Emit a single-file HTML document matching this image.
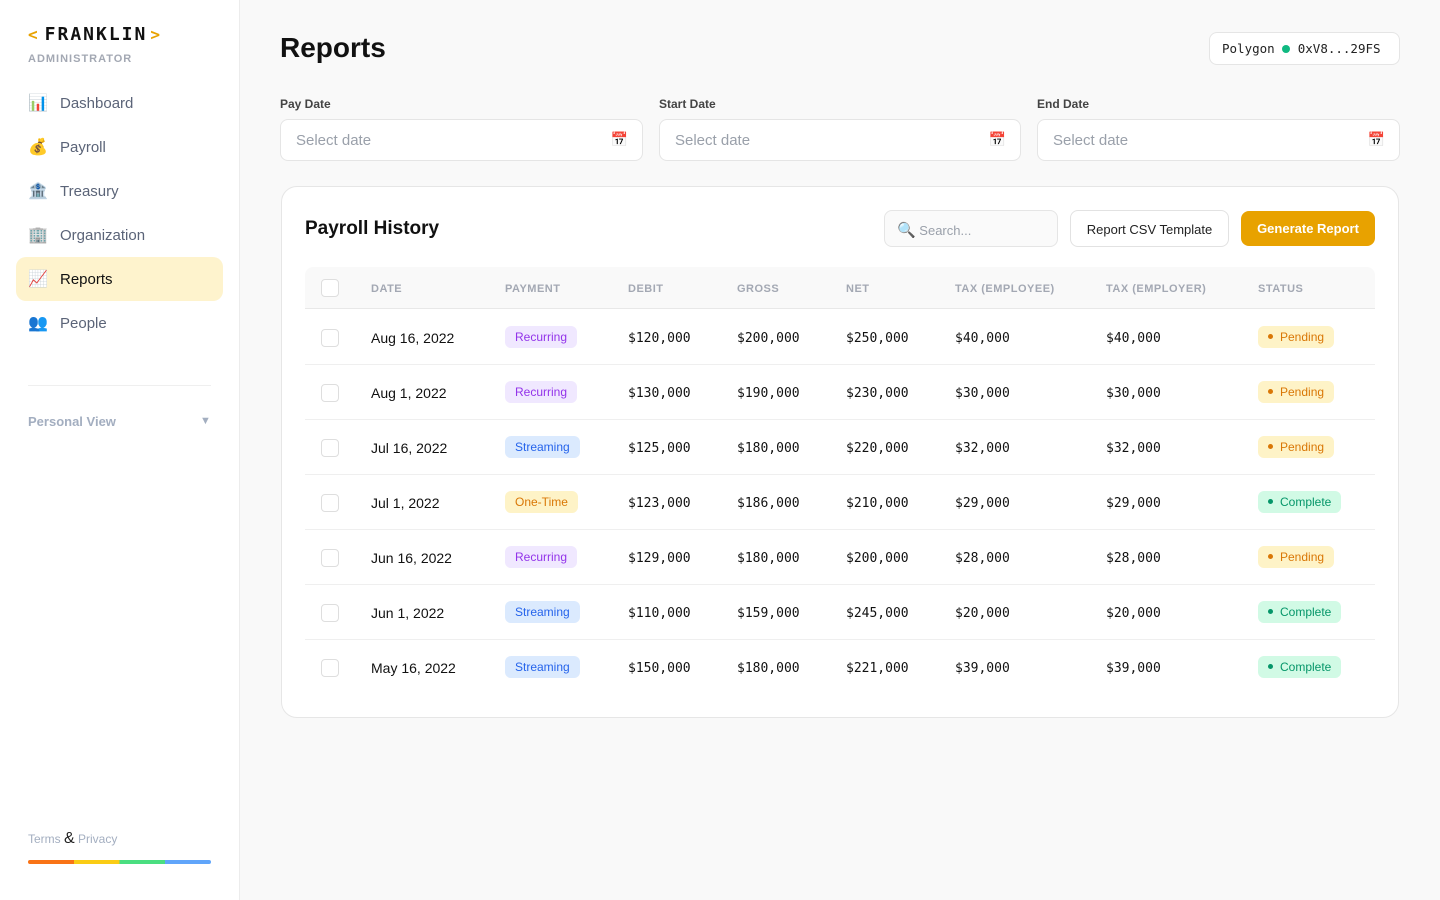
<!DOCTYPE html>
<html><head><meta charset="utf-8"><style>
*{box-sizing:border-box;margin:0;padding:0}
body{width:1440px;height:900px;background:#f9f9f9;font-family:"Liberation Sans",sans-serif;position:relative;overflow:hidden;color:#111}
.mono{font-family:"DejaVu Sans Mono","Liberation Mono",monospace}
.side{position:absolute;left:0;top:0;width:240px;height:900px;background:#fff;border-right:1px solid #ececec}
.logo{position:absolute;left:28px;top:24px;font-size:18px;font-weight:bold;letter-spacing:2px;white-space:nowrap}
.logo b{color:#e8a200;font-size:16px;letter-spacing:0}
.admin{position:absolute;left:28px;top:53px;font-size:11px;font-weight:bold;color:#a3a8b3;letter-spacing:1px}
.nav{position:absolute;left:16px;width:207px;height:44px;border-radius:10px;font-size:15px;color:#5b6478;display:flex;align-items:center;padding-left:12px}
.nav i{font-style:normal;width:32px;font-size:16px}
.nav.act{background:#fef3cd;color:#111}
.abs{position:absolute}
.lbl{font-size:12px;font-weight:bold;color:#444}
.inp{position:absolute;top:119px;width:363px;height:42px;background:#fff;border:1px solid #e5e5e5;border-radius:8px;font-size:15px;color:#9aa0aa;padding:12px 15px}
.inp span{position:absolute;right:14px;top:11px;font-size:14px}
.card{position:absolute;left:281px;top:186px;width:1118px;height:532px;background:#fff;border:1px solid #e6e6e6;border-radius:16px}
.th{position:absolute;left:305px;top:267px;width:1070px;height:42px;background:#f9f9f9;border-bottom:1px solid #e8e8e8;border-radius:8px 8px 0 0}
.h{position:absolute;top:283px;font-size:11px;font-weight:bold;color:#a3a8b3;letter-spacing:.5px}
.row{position:absolute;left:305px;width:1070px;height:55px;border-bottom:1px solid #efefef}
.cb{position:absolute;left:16px;top:19px;width:18px;height:18px;border:1.5px solid #dedede;border-radius:4px;background:#fff}
.c{position:absolute;top:20px;font-size:14px}
.m{font-family:"DejaVu Sans Mono","Liberation Mono",monospace;font-size:13px;top:21px}
.pill{position:absolute;top:16px;height:22px;border-radius:6px;font-size:12px;padding:4px 10px;line-height:14px}
.rec{background:#f0e8ff;color:#9333ea}.str{background:#dbeafe;color:#2563eb}.one{background:#fef3c7;color:#d97706}
.pen{background:#fef3c7;color:#d97706}.com{background:#d1fae5;color:#059669}
.dot{display:inline-block;width:5px;height:5px;border-radius:50%;background:currentColor;margin-right:7px;vertical-align:2px}
</style></head><body>
<div class="side">
<div class="logo mono"><b style="margin-right:7px">&lt;</b>FRANKLIN<b style="margin-left:3px">&gt;</b></div>
<div class="admin">ADMINISTRATOR</div>
<div class="nav" style="top:81px"><i>📊</i>Dashboard</div>
<div class="nav" style="top:125px"><i>💰</i>Payroll</div>
<div class="nav" style="top:169px"><i>🏦</i>Treasury</div>
<div class="nav" style="top:213px"><i>🏢</i>Organization</div>
<div class="nav act" style="top:257px"><i>📈</i>Reports</div>
<div class="nav" style="top:301px"><i>👥</i>People</div>
<div class="abs" style="left:28px;top:385px;width:183px;border-top:1px solid #efefef"></div>
<div class="abs" style="left:28px;top:414px;font-size:13px;font-weight:bold;color:#a3aec0">Personal View</div>
<div class="abs" style="left:200px;top:415px;font-size:11px;color:#a3aec0">▼</div>
<div class="abs" style="left:28px;top:830px;font-size:12px;color:#a3aec0">Terms <span style="color:#222;font-size:16px">&amp;</span> Privacy</div>
<div class="abs" style="left:28px;top:860px;width:183px;height:4px;border-radius:2px;background:linear-gradient(90deg,#f97316 0 25%,#facc15 25% 50%,#4ade80 50% 75%,#60a5fa 75%)"></div>
</div>
<div class="abs" style="left:280px;top:32px;font-size:28px;font-weight:bold">Reports</div>
<div class="abs mono" style="left:1209px;top:32px;width:191px;height:33px;background:#fff;border:1px solid #e5e5e5;border-radius:8px;font-size:12.5px;padding:8px 12px;color:#222">Polygon <span style="display:inline-block;width:8px;height:8px;border-radius:50%;background:#10b981;vertical-align:0"></span> 0xV8...29FS</div>
<div class="abs lbl" style="left:280px;top:97px">Pay Date</div>
<div class="abs lbl" style="left:659px;top:97px">Start Date</div>
<div class="abs lbl" style="left:1037px;top:97px">End Date</div>
<div class="inp" style="left:280px">Select date<span>📅</span></div>
<div class="inp" style="left:659px;width:362px">Select date<span>📅</span></div>
<div class="inp" style="left:1037px">Select date<span>📅</span></div>
<div class="card"></div>
<div class="abs" style="left:305px;top:218px;font-size:19px;font-weight:bold">Payroll History</div>
<div class="abs" style="left:884px;top:210px;width:174px;height:37px;background:#fafafa;border:1px solid #e5e5e5;border-radius:8px;font-size:13px;color:#9aa0aa;padding:10px 12px"><span style="font-size:15px">🔍</span> Search...</div>
<div class="abs" style="left:1070px;top:210px;width:159px;height:37px;background:#fff;border:1px solid #e2e2e2;border-radius:8px;font-size:13px;color:#222;padding:11px 0;text-align:center">Report CSV Template</div>
<div class="abs" style="left:1241px;top:211px;width:134px;height:35px;background:#e8a200;border-radius:8px;font-size:13px;font-weight:bold;color:#fff;padding:10px 0;text-align:center">Generate Report</div>
<div class="th"><div class="cb" style="top:12px"></div></div>
<div class="h" style="left:371px">DATE</div><div class="h" style="left:505px">PAYMENT</div><div class="h" style="left:628px">DEBIT</div><div class="h" style="left:737px">GROSS</div><div class="h" style="left:846px">NET</div><div class="h" style="left:955px">TAX (EMPLOYEE)</div><div class="h" style="left:1106px">TAX (EMPLOYER)</div><div class="h" style="left:1258px">STATUS</div>

<div class="row" style="top:310px"><div class="cb"></div><div class="c" style="left:66px">Aug 16, 2022</div><div class="pill rec" style="left:200px">Recurring</div><div class="c m" style="left:323px">$120,000</div><div class="c m" style="left:432px">$200,000</div><div class="c m" style="left:541px">$250,000</div><div class="c m" style="left:650px">$40,000</div><div class="c m" style="left:801px">$40,000</div><div class="pill pen" style="left:953px"><span class="dot"></span>Pending</div></div>
<div class="row" style="top:365px"><div class="cb"></div><div class="c" style="left:66px">Aug 1, 2022</div><div class="pill rec" style="left:200px">Recurring</div><div class="c m" style="left:323px">$130,000</div><div class="c m" style="left:432px">$190,000</div><div class="c m" style="left:541px">$230,000</div><div class="c m" style="left:650px">$30,000</div><div class="c m" style="left:801px">$30,000</div><div class="pill pen" style="left:953px"><span class="dot"></span>Pending</div></div>
<div class="row" style="top:420px"><div class="cb"></div><div class="c" style="left:66px">Jul 16, 2022</div><div class="pill str" style="left:200px">Streaming</div><div class="c m" style="left:323px">$125,000</div><div class="c m" style="left:432px">$180,000</div><div class="c m" style="left:541px">$220,000</div><div class="c m" style="left:650px">$32,000</div><div class="c m" style="left:801px">$32,000</div><div class="pill pen" style="left:953px"><span class="dot"></span>Pending</div></div>
<div class="row" style="top:475px"><div class="cb"></div><div class="c" style="left:66px">Jul 1, 2022</div><div class="pill one" style="left:200px">One-Time</div><div class="c m" style="left:323px">$123,000</div><div class="c m" style="left:432px">$186,000</div><div class="c m" style="left:541px">$210,000</div><div class="c m" style="left:650px">$29,000</div><div class="c m" style="left:801px">$29,000</div><div class="pill com" style="left:953px"><span class="dot"></span>Complete</div></div>
<div class="row" style="top:530px"><div class="cb"></div><div class="c" style="left:66px">Jun 16, 2022</div><div class="pill rec" style="left:200px">Recurring</div><div class="c m" style="left:323px">$129,000</div><div class="c m" style="left:432px">$180,000</div><div class="c m" style="left:541px">$200,000</div><div class="c m" style="left:650px">$28,000</div><div class="c m" style="left:801px">$28,000</div><div class="pill pen" style="left:953px"><span class="dot"></span>Pending</div></div>
<div class="row" style="top:585px"><div class="cb"></div><div class="c" style="left:66px">Jun 1, 2022</div><div class="pill str" style="left:200px">Streaming</div><div class="c m" style="left:323px">$110,000</div><div class="c m" style="left:432px">$159,000</div><div class="c m" style="left:541px">$245,000</div><div class="c m" style="left:650px">$20,000</div><div class="c m" style="left:801px">$20,000</div><div class="pill com" style="left:953px"><span class="dot"></span>Complete</div></div>
<div class="row" style="top:640px;border-bottom:none"><div class="cb"></div><div class="c" style="left:66px">May 16, 2022</div><div class="pill str" style="left:200px">Streaming</div><div class="c m" style="left:323px">$150,000</div><div class="c m" style="left:432px">$180,000</div><div class="c m" style="left:541px">$221,000</div><div class="c m" style="left:650px">$39,000</div><div class="c m" style="left:801px">$39,000</div><div class="pill com" style="left:953px"><span class="dot"></span>Complete</div></div>
</body></html>
